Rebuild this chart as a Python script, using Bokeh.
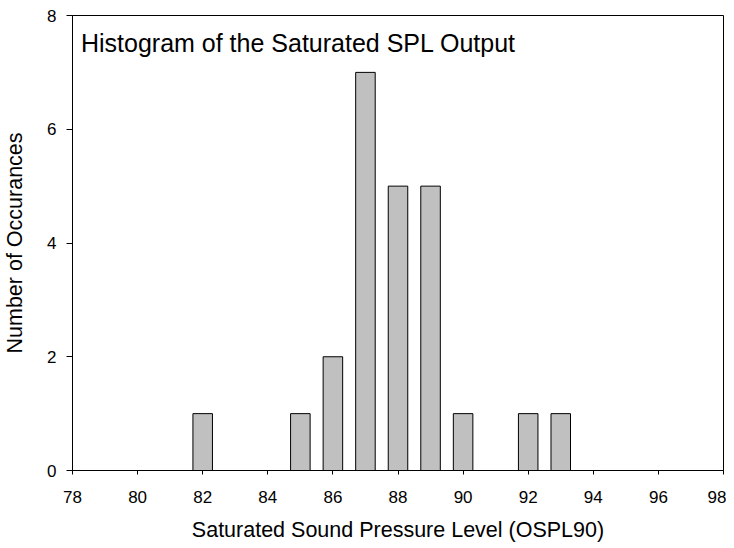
from bokeh.plotting import figure
from bokeh.models import Label, FixedTicker
from bokeh.embed import file_html
from bokeh.resources import INLINE

spl_levels = [82, 85, 86, 87, 88, 89, 90, 92, 93]
occurrences = [1, 1, 2, 7, 5, 5, 1, 1, 1]
x_ticks = [78, 80, 82, 84, 86, 88, 90, 92, 94, 96, 98]
y_ticks = [0, 2, 4, 6, 8]

FONT = "Liberation Sans"

p = figure(width=726, height=548, output_backend="svg", toolbar_location=None,
           x_range=(78, 98), y_range=(0, 8),
           min_border_left=72, min_border_right=3, min_border_top=15, min_border_bottom=78)

p.vbar(x=spl_levels, top=occurrences, width=0.6, bottom=0,
       fill_color="#c0c0c0", line_color="black", line_width=1)

p.xgrid.visible = False
p.ygrid.visible = False
p.outline_line_color = "black"
p.outline_line_width = 1

for ax in (p.xaxis[0], p.yaxis[0]):
    ax.axis_line_color = "black"
    ax.major_tick_line_color = "black"
    ax.major_tick_in = 0
    ax.minor_tick_line_color = None
    ax.major_label_text_font = FONT
    ax.major_label_text_font_size = "17px"
    ax.major_label_text_color = "black"
    ax.axis_label_text_font = FONT
    ax.axis_label_text_font_size = "21.5px"
    ax.axis_label_text_font_style = "normal"
    ax.axis_label_text_color = "black"

p.xaxis.major_tick_out = 4
p.yaxis.major_tick_out = 6
p.xaxis.ticker = FixedTicker(ticks=x_ticks)
p.yaxis.ticker = FixedTicker(ticks=y_ticks)
p.xaxis.axis_label = "Saturated Sound Pressure Level (OSPL90)"
p.yaxis.axis_label = "Number of Occurances"
p.xaxis.major_label_standoff = 16
p.xaxis.axis_label_standoff = 12
p.yaxis.major_label_standoff = 10
p.yaxis.axis_label_standoff = 17

title = Label(x=78.26, y=7.77, text="Histogram of the Saturated SPL Output",
              text_font=FONT, text_font_size="25px", text_color="black",
              text_baseline="top", text_align="left")
p.add_layout(title)

open("out.html", "w").write(file_html(p, INLINE))
